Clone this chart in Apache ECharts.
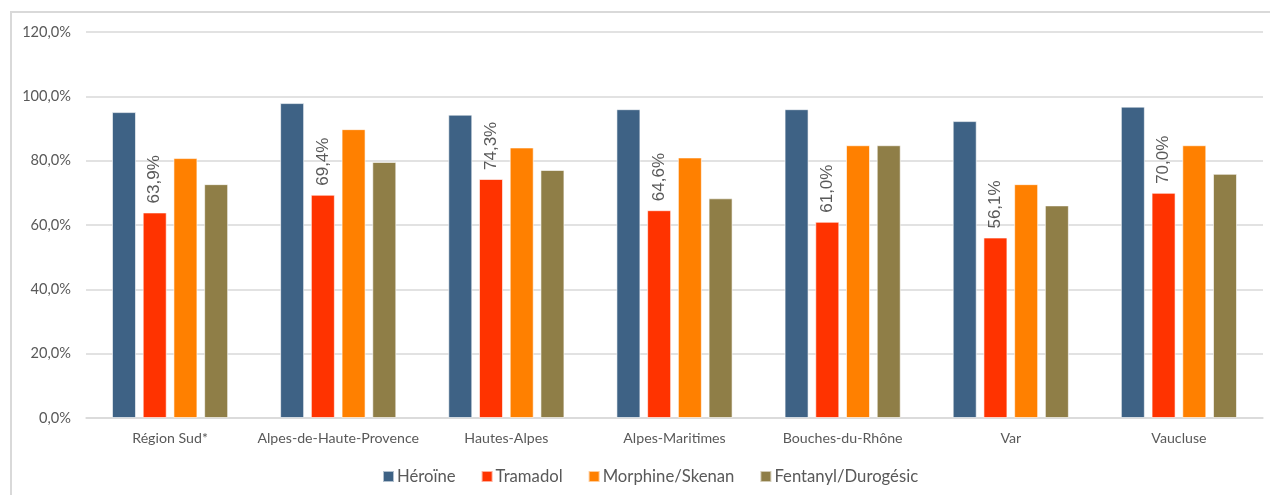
<!DOCTYPE html>
<html><head><meta charset="utf-8">
<script src="https://cdn.jsdelivr.net/npm/echarts@6/dist/echarts.min.js"></script>
<style>html,body{margin:0;padding:0;background:#fff;}#c{width:1270px;height:495px;}</style>
</head><body><div id="c"></div>
<script>
const categories = ['Région Sud*','Alpes-de-Haute-Provence','Hautes-Alpes','Alpes-Maritimes','Bouches-du-Rhône','Var','Vaucluse'];
const heroine = [95.1, 97.9, 94.3, 96.0, 96.0, 92.3, 96.8];
const tramadol = [63.9, 69.4, 74.3, 64.6, 61.0, 56.1, 70.0];
const morphine = [80.8, 89.8, 84.1, 81.0, 84.8, 72.7, 84.8];
const fentanyl = [72.7, 79.6, 77.1, 68.3, 84.8, 66.1, 75.9];
const yTicks = {min: 0, max: 120, interval: 20};

const fmt = v => v.toFixed(1).replace('.', ',') + '%';
const chart = echarts.init(document.getElementById('c'));
const base = {type:'bar', barWidth:24, barGap:'28%', itemStyle:{borderColor:'rgba(255,255,255,0.6)', borderWidth:1}};
chart.setOption({
  animation:false,
  textStyle:{fontFamily:'Lato, "Liberation Sans", sans-serif'},
  graphic:[{type:'rect', shape:{x:11,y:12,width:1300,height:520}, style:{fill:'none', stroke:'#d9d9d9', lineWidth:2}, silent:true}],
  grid:{left:86, right:7, top:32, bottom:77, containLabel:false},
  legend:{top:463, left:377, icon:'rect', itemWidth:11, itemHeight:11, itemGap:25,
    textStyle:{color:'#595959', fontSize:16.7, fontFamily:'Lato, sans-serif', padding:[0,0,0,-2]}},
  xAxis:{type:'category', data:categories,
    axisLine:{lineStyle:{color:'#d9d9d9', width:1.5}}, axisTick:{show:false},
    axisLabel:{color:'#595959', fontSize:14.2, margin:13, interval:0}},
  yAxis:{type:'value', min:yTicks.min, max:yTicks.max, interval:yTicks.interval,
    axisLine:{show:false}, axisTick:{show:false},
    splitLine:{lineStyle:{color:'#d9d9d9', width:1.5}},
    axisLabel:{color:'#595959', fontSize:14.6, margin:15, formatter:fmt}},
  series:[
    Object.assign({}, base, {name:'Héroïne', data:heroine, itemStyle:Object.assign({}, base.itemStyle, {color:'#3e6285'})}),
    Object.assign({}, base, {name:'Tramadol', data:tramadol, itemStyle:Object.assign({}, base.itemStyle, {color:'#ff3300'}),
      label:{show:true, position:'top', rotate:90, align:'left', verticalAlign:'middle', distance:9,
        color:'#595959', fontSize:17, fontFamily:'"Liberation Sans", Arial, sans-serif', formatter:p=>fmt(p.value)}}),
    Object.assign({}, base, {name:'Morphine/Skenan', data:morphine, itemStyle:Object.assign({}, base.itemStyle, {color:'#ff8000'})}),
    Object.assign({}, base, {name:'Fentanyl/Durogésic', data:fentanyl, itemStyle:Object.assign({}, base.itemStyle, {color:'#8f7e47'})})
  ]
});
</script></body></html>
